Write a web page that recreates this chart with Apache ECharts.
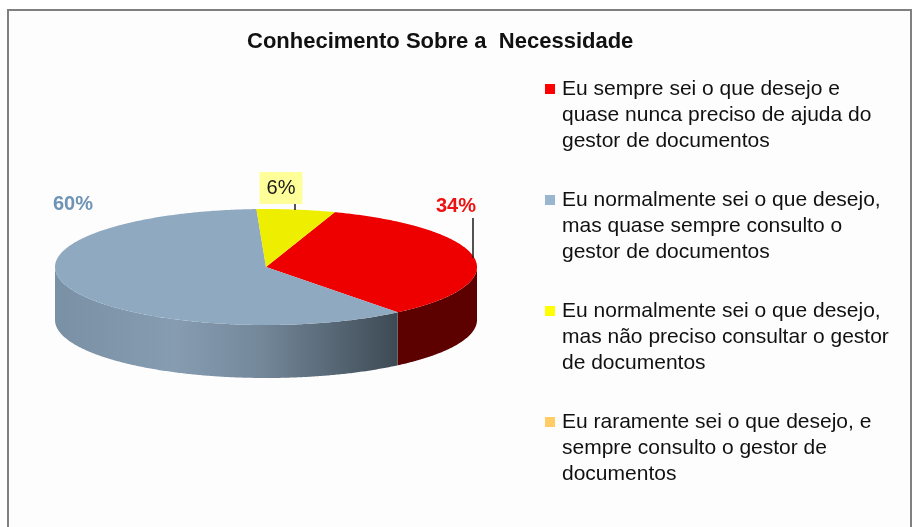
<!DOCTYPE html>
<html>
<head>
<meta charset="utf-8">
<title>Conhecimento Sobre a Necessidade</title>
<style>
  html, body { margin: 0; padding: 0; background: #fff; }
  #chart { width: 912px; height: 527px; }
</style>
</head>
<body>
<div id="chart"></div>
<script src="https://cdn.jsdelivr.net/npm/echarts@6/dist/echarts.min.js"></script>
<script>
const categories = [
  'Eu sempre sei o que desejo e\nquase nunca preciso de ajuda do\ngestor de documentos',
  'Eu normalmente sei o que desejo,\nmas quase sempre consulto o\ngestor de documentos',
  'Eu normalmente sei o que desejo,\nmas não preciso consultar o gestor\nde documentos',
  'Eu raramente sei o que desejo, e\nsempre consulto o gestor de\ndocumentos'
]
const values = [34, 60, 6, 0]

const legendColors = ['#ff0000', '#9bb7d0', '#ffff00', '#ffcc66']
const topColors = ['#ee0000', '#8fa9c0', '#eeee00', '#ffcc66']
const FONT = '"Liberation Sans", Arial, sans-serif'

// elipse do topo da pizza
const cx = 266
const cy = 267
const rx = 211
const ry = 58
const depth = 53
const startAngle = 19 // graus, sentido horario a partir do topo

const sideFills = [
  '#5c0000',
  {
    type: 'linear', x: 0, y: 0, x2: 1, y2: 0,
    colorStops: [
      { offset: 0, color: '#7a91a5' },
      { offset: 0.35, color: '#869cb1' },
      { offset: 0.6, color: '#74889a' },
      { offset: 1, color: '#3d4a54' }
    ]
  }
]

// rotulos colocados a mao como no original
const labelStyles = [
  { x: 456, y: 206, color: '#ee1111', weight: 'bold', line: [473, 218, 473, 258] },
  { x: 73, y: 204, color: '#6f93b5', weight: 'bold' },
  { x: 281, y: 188, color: '#1a1a1a', weight: 'normal', bg: '#ffff99', line: [295, 204, 295, 210] }
]

const total = values.reduce((a, b) => a + b, 0)

const rimPoint = (deg, dy) => {
  const a = deg * Math.PI / 180
  return [cx + rx * Math.sin(a), cy - ry * Math.cos(a) + dy]
}

const arcPoints = (from, to, dy) => {
  const pts = []
  const steps = Math.max(2, Math.ceil((to - from) * 2))
  for (let i = 0; i <= steps; i++) {
    pts.push(rimPoint(from + (to - from) * i / steps, dy))
  }
  return pts
}

const sliceAngles = values.map((v, i) => {
  const before = values.slice(0, i).reduce((a, b) => a + b, 0)
  return [startAngle + before / total * 360, startAngle + (before + v) / total * 360]
})

const renderSlice = (index) => () => {
  if (!values[index]) return { type: 'group', children: [] }
  const [a0, a1] = sliceAngles[index]
  const children = []

  // parede lateral, so a parte da frente aparece
  const wallFrom = Math.max(a0, 90)
  const wallTo = Math.min(a1, 270)
  if (wallTo > wallFrom) {
    const wall = arcPoints(wallFrom, wallTo, 0).concat(arcPoints(wallFrom, wallTo, depth).reverse())
    children.push({
      type: 'polygon',
      shape: { points: wall },
      style: { fill: sideFills[index] }
    })
  }

  children.push({
    type: 'polygon',
    shape: { points: [[cx, cy]].concat(arcPoints(a0, a1, 0)) },
    style: { fill: topColors[index] }
  })

  const lab = labelStyles[index]
  if (lab.line) {
    children.push({
      type: 'line',
      shape: { x1: lab.line[0], y1: lab.line[1], x2: lab.line[2], y2: lab.line[3] },
      style: { stroke: '#1a1a1a', lineWidth: 1.5 }
    })
  }
  children.push({
    type: 'text',
    x: lab.x,
    y: lab.y,
    style: {
      text: values[index] + '%',
      fill: lab.color,
      font: lab.weight + ' 20px ' + FONT,
      align: 'center',
      verticalAlign: 'middle',
      backgroundColor: lab.bg || 'transparent',
      padding: lab.bg ? [6, 7, 6, 7] : 0
    }
  })
  return { type: 'group', children }
}

// quadrado alinhado com a primeira linha do texto
const legendIcon = 'path://M0 0L0 0Z M12 78L12 78Z M0 8L10 8L10 18L0 18Z'

const chart = echarts.init(document.getElementById('chart'), null, { renderer: 'canvas' })
chart.setOption({
  animation: false,
  backgroundColor: '#ffffff',
  graphic: [{
    type: 'rect',
    z: -10,
    shape: { x: 8, y: 10, width: 903, height: 540 },
    style: { fill: '#fdfdfd', stroke: '#808080', lineWidth: 2 },
    silent: true
  }],
  title: {
    text: 'Conhecimento Sobre a  Necessidade',
    left: 247,
    top: 31,
    padding: 0,
    textStyle: { fontFamily: FONT, fontSize: 22, fontWeight: 'bold', color: '#111' }
  },
  legend: {
    orient: 'vertical',
    left: 545,
    top: 76,
    padding: 0,
    itemWidth: 12,
    itemHeight: 78,
    itemGap: 33,
    icon: legendIcon,
    selectedMode: false,
    data: categories,
    textStyle: { fontFamily: FONT, fontSize: 21, lineHeight: 26, color: '#111' }
  },
  series: categories.map((name, i) => ({
    type: 'custom',
    name,
    coordinateSystem: 'none',
    silent: true,
    itemStyle: { color: legendColors[i] },
    data: [values[i]],
    renderItem: renderSlice(i)
  }))
})
</script>
</body>
</html>
